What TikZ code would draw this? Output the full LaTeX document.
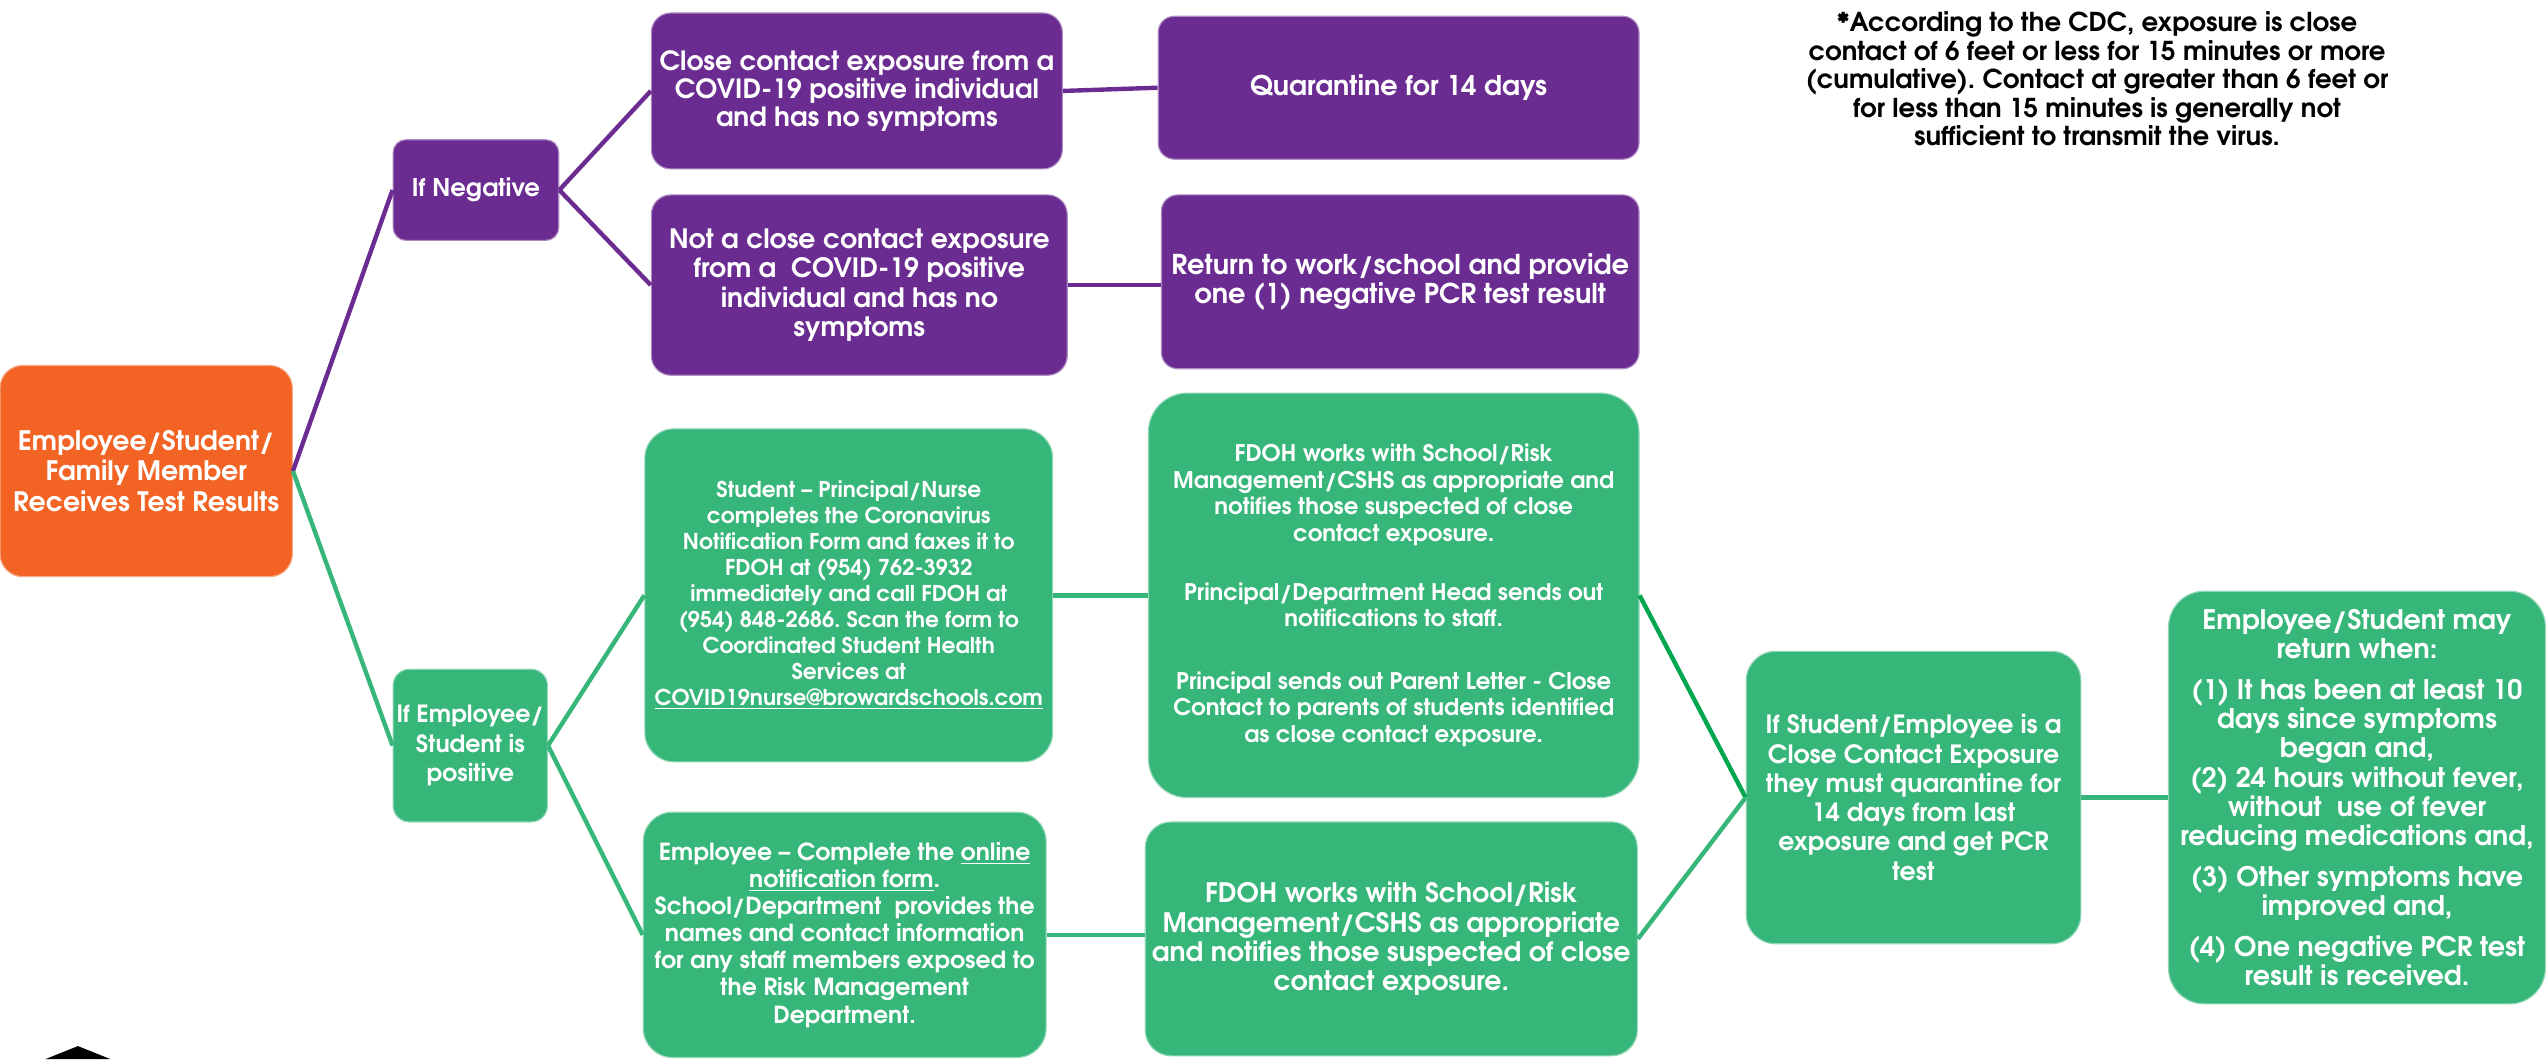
\documentclass[tikz,border=0pt]{standalone}
\usepackage{fontspec}
\setmainfont{TeX Gyre Adventor}
\usetikzlibrary{positioning}
\definecolor{cpurple}{RGB}{107,44,145}
\definecolor{cgreen}{RGB}{55,182,122}
\definecolor{cdkgreen}{RGB}{0,166,80}
\definecolor{corange}{RGB}{242,99,36}
\frenchspacing
\tikzset{
  box/.style={rectangle, align=center, text=white, inner sep=0pt, font=\bfseries, line width=0.7pt},
  pbox/.style={box, fill=cpurple, draw=cpurple!55!white},
  gbox/.style={box, fill=cgreen, draw=cgreen!55!white},
  obox/.style={box, fill=corange, draw=corange!55!white},
  pline/.style={draw=cpurple, line width=2.7pt},
  gline/.style={draw=cgreen, line width=2.7pt},
  dgline/.style={draw=cdkgreen, line width=2.7pt},
  fs/.style 2 args={font=\bfseries\fontsize{#1}{#2}\selectfont},
}
\begin{document}
\begin{tikzpicture}[x=1pt,y=-1pt]
\useasboundingbox (0,0) rectangle (1568,652);
% nodes
\node[obox, rounded corners=14pt, minimum width=180pt, minimum height=130pt, fs={16.5}{19}] (root) at (90,290) {Employee/Student/\\Family Member\\Receives Test Results};
\node[pbox, rounded corners=8pt, minimum width=102pt, minimum height=62pt, fs={15}{18}] (neg) at (293,117) {If Negative};
\node[pbox, rounded corners=12pt, minimum width=253pt, minimum height=96pt, fs={16.3}{17.5}] (n1) at (527.5,56) {Close contact exposure from a\\COVID-19 positive individual\\and has no symptoms};
\node[pbox, rounded corners=12pt, minimum width=256pt, minimum height=111pt, fs={16.4}{18}] (n2) at (529,175.5) {Not a close contact exposure\\from a\ \ COVID-19 positive\\individual and has no\\symptoms};
\node[pbox, rounded corners=10pt, minimum width=296pt, minimum height=88pt, fs={16.7}{18}] (q) at (861,54) {Quarantine for 14 days};
\node[pbox, rounded corners=10pt, minimum width=294pt, minimum height=107pt, fs={16.8}{18}] (ret) at (862,173.5) {Return to work/school and provide\\one (1) negative PCR test result};
\node[gbox, rounded corners=10pt, minimum width=95pt, minimum height=94pt, fs={14.6}{18}] (pos) at (289.5,459) {If Employee/\\Student is\\positive};
\node[gbox, rounded corners=18pt, minimum width=251pt, minimum height=205pt, fs={13.4}{16}] (stu) at (522.5,366.5) {Student -- Principal/Nurse\\completes the Coronavirus\\Notification Form and faxes it to\\FDOH at (954) 762-3932\\immediately and call FDOH at\\(954) 848-2686. Scan the form to\\Coordinated Student Health\\Services at\\\underline{COVID19nurse@browardschools.com}};
\node[gbox, rounded corners=24pt, minimum width=302pt, minimum height=249pt, fs={14.1}{16.3}] (f1) at (858,366.5) {FDOH works with School/Risk\\Management/CSHS as appropriate and\\notifies those suspected of close\\contact exposure.\\[20pt]Principal/Department Head sends out\\notifications to staff.\\[22pt]Principal sends out Parent Letter - Close\\Contact to parents of students identified\\as close contact exposure.};
\node[gbox, rounded corners=18pt, minimum width=248pt, minimum height=151pt, fs={14.5}{16.7}] (emp) at (520,575.5) {Employee -- Complete the \underline{online}\\\underline{notification form}.\\School/Department\ \ provides the\\names and contact information\\for any staff members exposed to\\the Risk Management\\Department.};
\node[gbox, rounded corners=16pt, minimum width=303pt, minimum height=144pt, fs={16.5}{18}] (f2) at (856.5,578) {FDOH works with School/Risk\\Management/CSHS as appropriate\\and notifies those suspected of close\\contact exposure.};
\node[gbox, rounded corners=18pt, minimum width=206pt, minimum height=180pt, fs={15.5}{18}] (cc) at (1178,491) {If Student/Employee is a\\Close Contact Exposure\\they must quarantine for\\14 days from last\\exposure and get PCR\\test};
\node[gbox, rounded corners=22pt, minimum width=232pt, minimum height=254pt, fs={16.6}{18}] (rw) at (1451,491) {Employee/Student may\\return when:\\[7pt](1) It has been at least 10\\days since symptoms\\began and,\\(2) 24 hours without fever,\\without\ \ use of fever\\reducing medications and,\\[7pt](3) Other symptoms have\\improved and,\\[7pt](4) One negative PCR test\\result is received.};
\node[align=center, text=black, inner sep=0pt, fs={16}{17.5}] (note) at (1291,48.5) {*According to the CDC, exposure is close\\contact of 6 feet or less for 15 minutes or more\\(cumulative). Contact at greater than 6 feet or\\for less than 15 minutes is generally not\\sufficient to transmit the virus.};
% connectors
\draw[pline] (root.east) -- (neg.west);
\draw[gline] (root.east) -- (pos.west);
\draw[pline] (neg.east) -- (n1.west);
\draw[pline] (neg.east) -- (n2.west);
\draw[pline] (n1.east) -- (q.west);
\draw[pline] (n2.east) -- (n2.east -| ret.west);
\draw[gline] (pos.east) -- (stu.west);
\draw[gline] (pos.east) -- (emp.west);
\draw[gline] (stu.east) -- (stu.east -| f1.west);
\draw[gline] (emp.east) -- (emp.east -| f2.west);
\draw[dgline] (f1.east) -- (cc.west);
\draw[gline] (f2.east) -- (cc.west);
\draw[gline] (cc.east) -- (cc.east -| rw.west);
% partial logo at bottom left
\fill[black] (48,644) -- (68,652) -- (28,652) -- cycle;
\end{tikzpicture}
\end{document}
